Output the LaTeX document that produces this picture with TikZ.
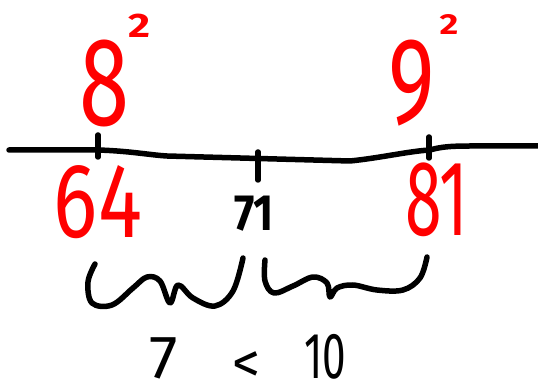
\documentclass[tikz,border=0pt]{standalone}
\usepackage{fontspec}
\setmainfont{Fira Sans}
% size (pt), horizontal squeeze, text
\newcommand\hw[3]{\fontsize{#1}{#1}\selectfont\scalebox{#2}[1]{#3}}
\tikzset{
  ink/.style={line width=5.5pt, line cap=round, line join=round},
  redtxt/.style={text=red, inner sep=0pt, anchor=center},
  blktxt/.style={text=black, inner sep=0pt, anchor=center},
}
\begin{document}
\begin{tikzpicture}[x=1pt,y=-1pt]
\useasboundingbox (0,0) rectangle (538,387);
% number line
\coordinate (L) at (9,150);
\coordinate (R) at (538,146);
\draw[ink] (L) -- (98,150) .. controls (130,151) and (150,155) .. (167,156)
  -- (350,161) .. controls (380,158) and (410,151) .. (430,150)
  .. controls (440,147) and (450,146) .. (470,146) -- (R);
% ticks
\coordinate (t1a) at (98,135); \coordinate (t1b) at (98,157);
\coordinate (t2a) at (258,152); \coordinate (t2b) at (258,180);
\coordinate (t3a) at (429,137); \coordinate (t3b) at (429,158);
\draw[ink] (t1a) -- (t1b);
\draw[ink] (t2a) -- (t2b);
\draw[ink] (t3a) -- (t3b);
% top labels
\node[redtxt] (eight) at (104,83) {\hw{126}{0.72}{8}};
\node[redtxt, font=\bfseries] (sq1) at (139,26) {\hw{34}{1.25}{2}};
\node[redtxt] (nine) at (412,83) {\hw{123}{0.72}{9}};
\node[redtxt, font=\bfseries] (sq2) at (449,24) {\hw{29}{1.25}{2}};
% bottom labels
\node[redtxt] (n64) at (98,202) {\hw{106}{0.78}{64}};
\node[blktxt, font=\bfseries] (n71) at (254,214) {\hw{51}{0.85}{71}};
\node[redtxt] (n81) at (437,200) {\hw{107}{0.62}{81}};
% braces
\draw[ink] plot[smooth, tension=0.6] coordinates {(95,264) (88,282) (92,303) (112,305) (133,288) (147,277) (160,281) (170,303) (178,285) (193,298) (215,306) (233,291) (243,258)};
\draw[ink] plot[smooth, tension=0.6] coordinates {(265,260) (265,281) (274,293) (293,286) (313,277) (327,283) (330,297) (337,288) (353,285) (377,290) (403,290) (420,278) (427,257)};
% inequality
\node[blktxt] (seven) at (164,358) {\hw{61}{1.05}{7}};
\node[blktxt] (lt) at (246,367) {\hw{56}{1.0}{<}};
\node[blktxt] (ten) at (325,357) {\hw{65}{0.65}{10}};
\end{tikzpicture}
\end{document}
